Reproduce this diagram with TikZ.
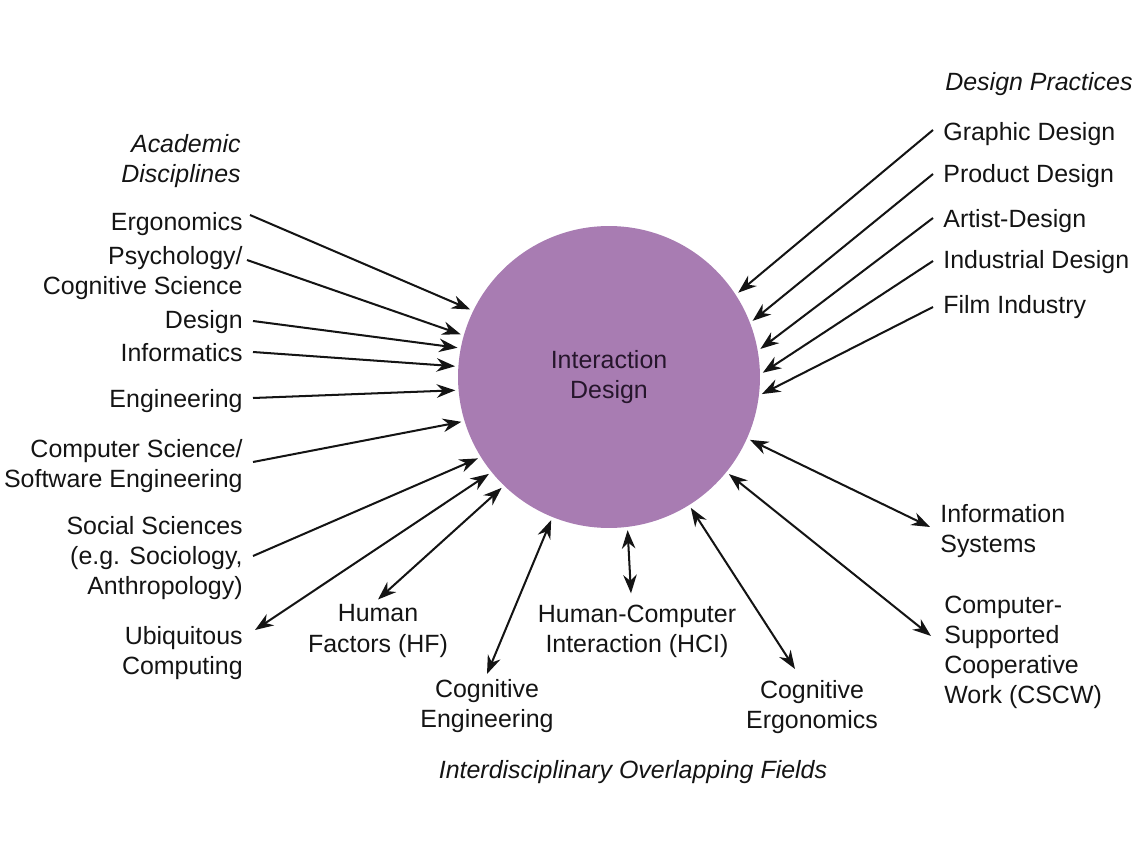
\documentclass[tikz,border=0pt]{standalone}
\usepackage{fontspec}
\setmainfont{Liberation Sans}
\usetikzlibrary{arrows.meta,calc}
\definecolor{hubPurple}{RGB}{168,124,178}
\definecolor{hubInk}{RGB}{38,22,44}
\definecolor{labelInk}{RGB}{20,20,20}
\tikzset{
  hub/.style={circle, fill=hubPurple, minimum size=6.04cm, inner sep=0pt, align=center,
    text=hubInk, font=\fontsize{14.2}{17.1}\selectfont},
  label/.style={inner xsep=0.2cm, inner ysep=0.1cm, text=labelInk, font=\fontsize{14.2}{17.1}\selectfont},
  discipline/.style={label, anchor=east, align=right},
  practice/.style={label, anchor=west, align=left},
  overlap/.style={label, align=center},
  heading/.style={font=\fontsize{14.2}{17.1}\selectfont\itshape},
  feed/.style={-{Stealth[length=0.37cm,width=0.27cm]}, line width=1.15pt, draw=labelInk, shorten >=0.06cm},
  link/.style={{Stealth[length=0.37cm,width=0.27cm]}-{Stealth[length=0.37cm,width=0.27cm]},
    line width=1.15pt, draw=labelInk, shorten >=0.06cm}
}
\begin{document}
\begin{tikzpicture}[x=0.02cm,y=-0.02cm]
    \useasboundingbox (0,0) rectangle (1135,851);
    \node[hub] (hub) at (609,377) {Interaction\\Design};
    \node[discipline,heading] (acad) at (251,161) {Academic\\Disciplines};
    \node[discipline] (ergo) at (253,224) {Ergonomics};
    \node[discipline] (psych) at (253,273) {Psychology/\\Cognitive Science};
    \node[discipline] (design) at (253,322) {Design};
    \node[discipline] (infor) at (253,353) {Informatics};
    \node[discipline] (eng) at (253,401) {Engineering};
    \node[discipline] (cs) at (253,466) {Computer Science/\\Software Engineering};
    \node[discipline] (soc) at (253,558) {Social Sciences\\(e.g. Sociology,\\Anthropology)};
    \node[discipline] (ubi) at (253,653) {Ubiquitous\\Computing};
    \node[overlap] (hf) at (378,631) {Human\\Factors (HF)};
    \node[overlap] (hci) at (637,631) {Human-Computer\\Interaction (HCI)};
    \node[overlap] (coge) at (487,706) {Cognitive\\Engineering};
    \node[overlap] (cogerg) at (812,707) {Cognitive\\Ergonomics};
    \node[overlap,heading] (inter) at (633,772) {Interdisciplinary Overlapping Fields};
    \node[practice,heading] (dp) at (935,84) {Design Practices};
    \node[practice] (graphic) at (933,134) {Graphic Design};
    \node[practice] (product) at (933,176) {Product Design};
    \node[practice] (artist) at (933,221) {Artist-Design};
    \node[practice] (industrial) at (933,262) {Industrial Design};
    \node[practice] (film) at (933,307) {Film Industry};
    \node[practice] (infosys) at (930,531) {Information\\Systems};
    \node[practice] (cscw) at (934,652) {Computer-\\Supported\\Cooperative\\Work (CSCW)};
    \draw[feed] ($(ergo.east)+(-3,-9)$) -- (hub.154.1);
    \draw[feed] ($(psych.east)+(-6,-13)$) -- (hub.164);
    \draw[feed] ($(design.east)+(0,-1)$) -- (hub.169.5);
    \draw[feed] ($(infor.east)+(0,-1)$) -- (hub.176.3);
    \draw[feed] ($(eng.east)+(0,-3)$) -- (hub.185.3);
    \draw[feed] ($(cs.east)+(0,-4)$) -- (hub.197.3);
    \draw[feed] ($(soc.east)+(0,-2)$) -- (hub.212.8);
    \draw[link] ($(ubi.east)+(2,-23)$) -- (hub.219.1);
    \draw[link] (hf.north) -- (hub.226.6);
    \draw[link] (coge.north) -- (hub.248.3);
    \draw[link] ($(hci.north)+(-6,-6)$) -- (hub.277.1);
    \draw[link] ($(cogerg.north)+(-17,-6)$) -- (hub.302.8);
    \draw[link] ($(cscw.west)+(-3,-16)$) -- (hub.321.4);
    \draw[link] ($(infosys.west)+(0,-4)$) -- (hub.336.9);
    \draw[feed] ($(graphic.west)+(0,-4)$) -- (hub.33.5);
    \draw[feed] ($(product.west)+(0,-2)$) -- (hub.21);
    \draw[feed] ($(artist.west)+(0,-3)$) -- (hub.10.3);
    \draw[feed] ($(industrial.west)+(0,-1)$) -- (hub.1.5);
    \draw[feed] (film.west) -- (hub.353.6);
  \end{tikzpicture}
\end{document}
